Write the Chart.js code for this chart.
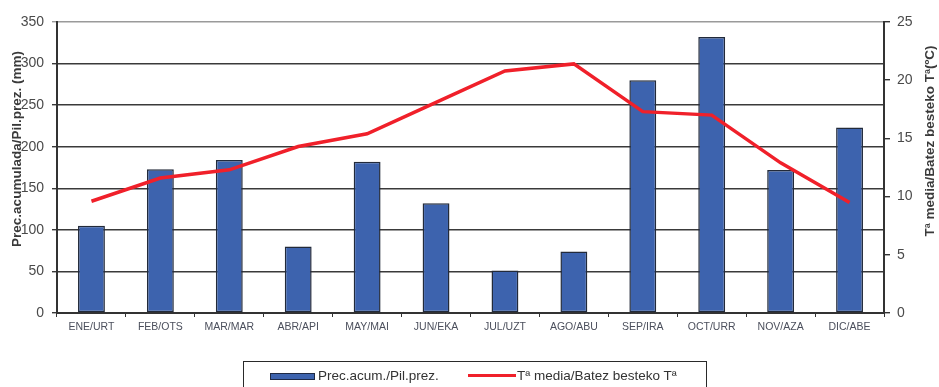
<!DOCTYPE html>
<html>
<head>
<meta charset="utf-8">
<script src="https://cdn.jsdelivr.net/npm/chart.js@4"></script>
<style>
  body { margin: 0; background: #fff; }
  #wrap { position: relative; width: 939px; height: 387px; overflow: hidden; }
  #legend {
    position: absolute; left: 243px; top: 361px; width: 464px; height: 40px;
    border: 1px solid #2a2a2a; box-sizing: border-box;
    font: 13.5px "Liberation Sans", Arial, sans-serif; color: #333;
  }
  .item { position: absolute; top: 6px; line-height: 16px; }
  .swatch { position: absolute; }
</style>
</head>
<body>
<div id="wrap">
  <canvas id="chart" width="939" height="387"></canvas>
  <div id="legend">
    <span class="swatch" style="left:26px;top:11px;width:43px;height:5px;background:#3d63ae;border:1px solid #1f2a44;"></span>
    <span class="item" style="left:74px;">Prec.acum./Pil.prez.</span>
    <span class="swatch" style="left:224px;top:12px;width:48px;height:3px;background:#f0202a;"></span>
    <span class="item" style="left:273px;">Tª media/Batez besteko Tª</span>
  </div>
</div>
<script>
// months (Spanish / Basque)
const months = ["ENE/URT", "FEB/OTS", "MAR/MAR", "ABR/API", "MAY/MAI", "JUN/EKA",
  "JUL/UZT", "AGO/ABU", "SEP/IRA", "OCT/URR", "NOV/AZA", "DIC/ABE"];
// accumulated precipitation (mm)
const precipitation = [105, 173, 184, 80, 182, 132, 51, 74, 280, 332, 172, 223];
// mean temperature (ºC)
const temperature = [9.6, 11.6, 12.3, 14.3, 15.4, 18.1, 20.8, 21.4, 17.3, 17.0, 12.9, 9.5];

const leftTitle = "Prec.acumulada/Pil.prez. (mm)";
const rightTitle = "Tª media/Batez besteko Tª(ºC)";
const font = "'Liberation Sans', Arial, sans-serif";

// draw the two rotated axis titles where the original has them
const axisTitles = {
  id: "axisTitles",
  afterDraw(chart) {
    const ctx = chart.ctx;
    const put = (text, x, y) => {
      ctx.save();
      ctx.fillStyle = "#3a3a3a";
      ctx.font = "bold 13.5px " + font;
      ctx.textAlign = "center";
      ctx.textBaseline = "middle";
      ctx.translate(x, y);
      ctx.rotate(-Math.PI / 2);
      ctx.fillText(text, 0, 0);
      ctx.restore();
    };
    put(leftTitle, 17, 149);
    put(rightTitle, 930, 141);
  }
};

new Chart(document.getElementById("chart"), {
  data: {
    labels: months,
    datasets: [
      {
        type: "line",
        label: "Tª media/Batez besteko Tª",
        data: temperature,
        yAxisID: "y1",
        borderColor: "#f0202a",
        borderWidth: 3.5,
        pointRadius: 0,
        tension: 0,
        order: 0
      },
      {
        type: "bar",
        label: "Prec.acum./Pil.prez.",
        data: precipitation,
        yAxisID: "y",
        backgroundColor: "#3d63ae",
        borderColor: "#222a3a",
        borderWidth: 1.5,
        borderSkipped: false,
        barPercentage: 0.39,
        categoryPercentage: 1,
        order: 1
      }
    ]
  },
  options: {
    responsive: false,
    animation: false,
    layout: { padding: { top: 22, left: 0, right: 0, bottom: 0 } },
    plugins: {
      legend: { display: false },
      tooltip: { enabled: false }
    },
    scales: {
      x: {
        offset: true,
        grid: { offset: true, drawOnChartArea: false, tickLength: 4, color: "#333", lineWidth: 1 },
        border: { display: true, color: "#333", width: 2 },
        ticks: { color: "#4b4f5c", font: { family: font, size: 10.5 }, padding: 4, maxRotation: 0, autoSkip: false },
        afterFit(scale) { scale.height = 74; }
      },
      y: {
        position: "left",
        min: 0,
        max: 350,
        ticks: { stepSize: 50, color: "#4a4a4a", font: { family: font, size: 14 }, padding: 8 },
        grid: {
          tickLength: 5,
          lineWidth: 1.4,
          color: (c) => (c.tick && c.tick.value === 350 ? "#9a9a9a" : "#3a3a3a")
        },
        border: { display: true, color: "#333", width: 2 },
        afterFit(scale) { scale.width = 57; }
      },
      y1: {
        position: "right",
        min: 0,
        max: 25,
        ticks: { stepSize: 5, color: "#4a4a4a", font: { family: font, size: 14 }, padding: 7 },
        grid: { drawOnChartArea: false, tickLength: 6, color: "#333", lineWidth: 1.4 },
        border: { display: true, color: "#333", width: 2 },
        afterFit(scale) { scale.width = 55; }
      }
    }
  },
  plugins: [axisTitles]
});
</script>
</body>
</html>
